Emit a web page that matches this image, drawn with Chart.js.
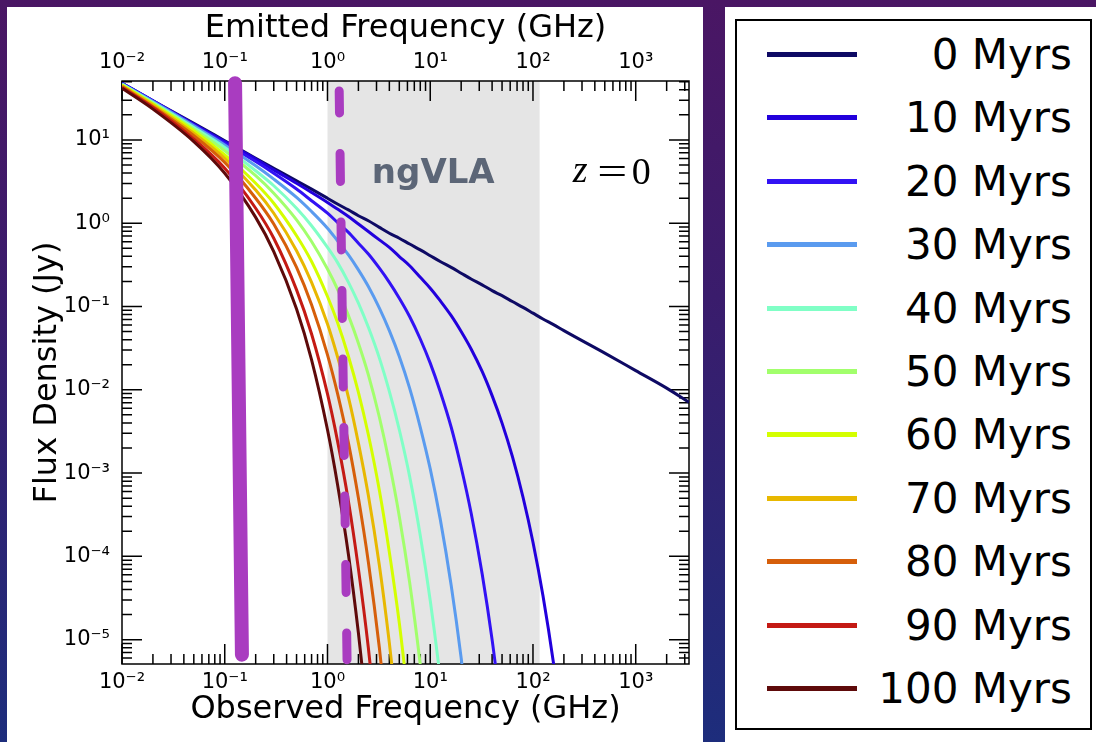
<!DOCTYPE html>
<html>
<head>
<meta charset="utf-8">
<title>Spectral ageing, z = 0</title>
<script src="https://cdn.jsdelivr.net/npm/chart.js@4.4.1/dist/chart.umd.min.js"></script>
<style>
  html, body { margin: 0; padding: 0; }
  body {
    width: 1096px; height: 742px; overflow: hidden; position: relative;
    background: linear-gradient(to bottom, #4a1664 0%, #3a1c6c 40%, #1d2d7c 100%);
    font-family: "DejaVu Sans", sans-serif;
  }
  #plotPanel { position: absolute; left: 7px; top: 7px; width: 696px; height: 735px; background: #fff; }
  #legendPanel { position: absolute; left: 725px; top: 7px; width: 371px; height: 735px; background: #fff; }
  #legendBox { position: absolute; left: 10px; top: 12px; width: 357px; height: 711px;
               border: 2px solid #000; box-sizing: border-box; }
  .item { position: absolute; left: 0; width: 100%; height: 50px; }
  .swatch { position: absolute; left: 30px; top: 22px; width: 90px; height: 5px; }
  .label { position: absolute; right: 18px; top: 0; line-height: 50px; font-size: 42px; color: #000; }
</style>
</head>
<body>
<div id="plotPanel"><canvas id="chart" width="696" height="735"></canvas></div>
<div id="legendPanel"><div id="legendBox"></div></div>
<script>
document.addEventListener("DOMContentLoaded", () => {

    // frequency grid (GHz) the curves were read at
    const freqGHz = [0.01, 0.02, 0.05, 0.1, 0.2, 0.3, 0.5, 0.7, 1, 1.25, 1.6, 2, 2.5, 3.2, 4, 5, 6.3, 8,
                     10, 12.5, 16, 20, 25, 32, 40, 50, 63, 80, 100, 125, 160, 200, 500, 1000, 2000, 3300];

    const ageLabels = ["0 Myrs", "10 Myrs", "20 Myrs", "30 Myrs", "40 Myrs", "50 Myrs",
                       "60 Myrs", "70 Myrs", "80 Myrs", "90 Myrs", "100 Myrs"];
    const ageColors = ["#0e0a64", "#2200dc", "#3212f4", "#5a9bef", "#80ffc6", "#a2ff6c",
                       "#d4ff00", "#e8b800", "#d65f0a", "#c41a14", "#5e0a0a"];

    // log10 of flux density (Jy) along freqGHz; a curve stops once it has left the plot
    const logFlux0 = [1.68, 1.47, 1.20, 0.99, 0.78, 0.66, 0.51, 0.41, 0.30, 0.23, 0.16, 0.09, 0.03, -0.05, -0.12, -0.18,
                      -0.25, -0.32, -0.39, -0.46, -0.53, -0.60, -0.67, -0.74, -0.81, -0.87, -0.94, -1.01, -1.08, -1.15,
                      -1.22, -1.29, -1.56, -1.77, -1.98, -2.15];
    const logFlux10 = [1.68, 1.47, 1.19, 0.98, 0.77, 0.64, 0.48, 0.37, 0.25, 0.17, 0.08, -0.01, -0.10, -0.20, -0.29, -0.40,
                       -0.51, -0.65, -0.78, -0.93, -1.11, -1.30, -1.51, -1.78, -2.07, -2.40, -2.80, -3.29, -3.83, -4.47,
                       -5.32, -6.25];
    const logFlux20 = [1.68, 1.47, 1.18, 0.96, 0.74, 0.60, 0.41, 0.27, 0.12, 0.01, -0.11, -0.24, -0.37, -0.54, -0.71, -0.90,
                       -1.12, -1.39, -1.68, -2.02, -2.45, -2.93, -3.48, -4.21, -5.00, -5.94];
    const logFlux30 = [1.67, 1.46, 1.17, 0.94, 0.69, 0.53, 0.31, 0.14, -0.06, -0.21, -0.38, -0.56, -0.76, -1.02, -1.29, -1.60,
                       -1.98, -2.45, -2.95, -3.55, -4.35, -5.22, -6.25];
    const logFlux40 = [1.67, 1.45, 1.15, 0.91, 0.63, 0.45, 0.18, -0.03, -0.29, -0.47, -0.71, -0.96, -1.25, -1.62, -2.02, -2.48,
                       -3.04, -3.75, -4.53, -5.46, -6.70];
    const logFlux50 = [1.66, 1.44, 1.13, 0.87, 0.57, 0.36, 0.04, -0.22, -0.55, -0.79, -1.11, -1.44, -1.82, -2.33, -2.88, -3.52,
                       -4.31, -5.30, -6.40];
    const logFlux60 = [1.66, 1.43, 1.11, 0.82, 0.48, 0.24, -0.15, -0.46, -0.88, -1.19, -1.60, -2.03, -2.54, -3.21, -3.95, -4.80,
                       -5.87];
    const logFlux70 = [1.65, 1.42, 1.08, 0.78, 0.40, 0.12, -0.33, -0.71, -1.21, -1.60, -2.09, -2.64, -3.27, -4.11, -5.04, -6.12];
    const logFlux80 = [1.64, 1.40, 1.05, 0.73, 0.30, -0.01, -0.53, -0.98, -1.58, -2.04, -2.64, -3.30, -4.07, -5.10, -6.23];
    const logFlux90 = [1.63, 1.39, 1.01, 0.66, 0.18, -0.18, -0.80, -1.33, -2.05, -2.61, -3.34, -4.15, -5.10, -6.36];
    const logFlux100 = [1.62, 1.37, 0.98, 0.60, 0.07, -0.34, -1.03, -1.64, -2.48, -3.13, -3.98, -4.92, -6.03];

    const curves = [logFlux0, logFlux10, logFlux20, logFlux30, logFlux40, logFlux50,
                    logFlux60, logFlux70, logFlux80, logFlux90, logFlux100];

    // purple markers: the solid bar and the dashed line (GHz, Jy)
    const solidMarkerFreq = [0.126, 0.147];
    const solidMarkerFlux = [48, 6.6e-6];
    const dashedMarkerFreq = [1.30, 1.55];
    const dashedMarkerFlux = [38.7, 5.75e-6];

    // ngVLA frequency coverage (GHz)
    const ngvlaBand = [1.0, 116];

    const xMin = 0.01, xMax = 3300;
    const yMin = 5.1e-6, yMax = 51;
    const xTickValues = [0.01, 0.1, 1, 10, 100, 1000];
    const xTickLabels = ["10⁻²", "10⁻¹", "10⁰", "10¹", "10²", "10³"];
    const yTickValues = [1e-5, 1e-4, 1e-3, 1e-2, 1e-1, 1, 10];
    const yTickLabels = ["10⁻⁵", "10⁻⁴", "10⁻³", "10⁻²", "10⁻¹", "10⁰", "10¹"];

    const purple = "#a93cc0";

    Chart.defaults.font.family = "'DejaVu Sans', sans-serif";
    Chart.defaults.color = "#000";

    const datasets = curves.map((vals, i) => ({
        label: ageLabels[i],
        data: vals.map((v, j) => ({ x: freqGHz[j], y: Math.pow(10, v) })),
        borderColor: ageColors[i],
        borderWidth: 3,
        pointRadius: 0,
        cubicInterpolationMode: "monotone",
        fill: false,
        order: 12 - i
    }));

    datasets.push({
        label: "solid marker",
        data: solidMarkerFreq.map((f, j) => ({ x: f, y: solidMarkerFlux[j] })),
        borderColor: purple,
        borderWidth: 14,
        borderCapStyle: "round",
        pointRadius: 0,
        clip: 12,
        order: 0
    });
    datasets.push({
        label: "dashed marker",
        data: dashedMarkerFreq.map((f, j) => ({ x: f, y: dashedMarkerFlux[j] })),
        borderColor: purple,
        borderWidth: 9,
        borderCapStyle: "round",
        borderDash: [28, 40.5],
        borderDashOffset: 6,
        pointRadius: 0,
        clip: 12,
        order: 1
    });

    // grey band, annotations, frame and inward matplotlib-style ticks
    const decorations = {
        id: "decorations",
        beforeDatasetsDraw(chart) {
            const { ctx, chartArea: a, scales: { x, y } } = chart;
            ctx.save();

            const b0 = x.getPixelForValue(ngvlaBand[0]);
            const b1 = x.getPixelForValue(ngvlaBand[1]);
            ctx.fillStyle = "#e5e5e5";
            ctx.fillRect(b0, a.top, b1 - b0, a.bottom - a.top);

            ctx.fillStyle = "#5c6677";
            ctx.font = "bold 34px 'DejaVu Sans'";
            ctx.textAlign = "center";
            ctx.textBaseline = "middle";
            ctx.fillText("ngVLA", x.getPixelForValue(10.7), y.getPixelForValue(3.9));

            const zx = x.getPixelForValue(552), zy = y.getPixelForValue(3.9);
            ctx.fillStyle = "#000";
            ctx.font = "italic 38px 'Liberation Serif'";
            ctx.fillText("z", zx - 29, zy - 2);
            ctx.font = "38px 'Liberation Serif'";
            ctx.save();
            ctx.translate(zx + 3, zy);
            ctx.scale(1.4, 1);
            ctx.fillText("=", 0, 0);
            ctx.restore();
            ctx.fillText("0", zx + 32, zy);

            ctx.strokeStyle = "#000";
            ctx.lineWidth = 1.5;
            const minor = [1, 2, 3, 4, 5, 6, 7, 8, 9];
            for (let d = -6; d <= 4; d++) {
                minor.forEach(m => {
                    const v = m * Math.pow(10, d);
                    const len = m === 1 ? 20 : 10;
                    if (v >= xMin && v <= xMax) {
                        const px = x.getPixelForValue(v);
                        ctx.beginPath();
                        ctx.moveTo(px, a.bottom); ctx.lineTo(px, a.bottom - len);
                        ctx.moveTo(px, a.top); ctx.lineTo(px, a.top + len);
                        ctx.stroke();
                    }
                    if (v >= yMin && v <= yMax) {
                        const py = y.getPixelForValue(v);
                        ctx.beginPath();
                        ctx.moveTo(a.left, py); ctx.lineTo(a.left + len, py);
                        ctx.moveTo(a.right, py); ctx.lineTo(a.right - len, py);
                        ctx.stroke();
                    }
                });
            }
            ctx.strokeRect(a.left, a.top, a.right - a.left, a.bottom - a.top);
            ctx.restore();
        }
    };

    const logAxis = (min, max, values, labels) => ({
        type: "logarithmic",
        min: min,
        max: max,
        bounds: "data",
        grid: { display: false, drawTicks: false },
        border: { display: false },
        afterBuildTicks: s => { s.ticks = values.map(v => ({ value: v })); },
        ticks: {
            autoSkip: false,
            maxRotation: 0,
            padding: 6,
            font: { size: 21 },
            color: "#000",
            callback: (v, i) => labels[i]
        }
    });

    const xBottom = logAxis(xMin, xMax, xTickValues, xTickLabels);
    xBottom.position = "bottom";
    xBottom.afterFit = s => { s.height = 78; };
    xBottom.title = { display: true, text: "Observed Frequency (GHz)", font: { size: 32 }, color: "#000", padding: { top: 0, bottom: 12.8 } };

    const xTop = logAxis(xMin, xMax, xTickValues, xTickLabels);
    xTop.position = "top";
    xTop.afterFit = s => { s.height = 74; };
    xTop.title = { display: true, text: "Emitted Frequency (GHz)", font: { size: 32 }, color: "#000", padding: { top: 2.8, bottom: 0 } };

    const yLeft = logAxis(yMin, yMax, yTickValues, yTickLabels);
    yLeft.position = "left";
    yLeft.ticks.padding = 12;
    yLeft.afterFit = s => { s.width = 115; };
    yLeft.title = { display: true, text: "Flux Density (Jy)", font: { size: 32 }, color: "#000", padding: { top: 21.8, bottom: 0 } };

    new Chart(document.getElementById("chart"), {
        type: "line",
        data: { datasets: datasets },
        options: {
            responsive: false,
            animation: false,
            layout: { padding: { left: 0, top: 0, right: 14, bottom: 0 } },
            plugins: { legend: { display: false }, tooltip: { enabled: false } },
            scales: { x: xBottom, x2: xTop, y: yLeft }
        },
        plugins: [decorations]
    });

    // legend panel on the right
    const box = document.getElementById("legendBox");
    ageLabels.forEach((label, i) => {
        const item = document.createElement("div");
        item.className = "item";
        item.style.top = (9 + i * 63.4) + "px";
        const sw = document.createElement("div");
        sw.className = "swatch";
        sw.style.background = ageColors[i];
        const tx = document.createElement("div");
        tx.className = "label";
        tx.textContent = label;
        item.appendChild(sw);
        item.appendChild(tx);
        box.appendChild(item);
    });
});
</script>
</body>
</html>
